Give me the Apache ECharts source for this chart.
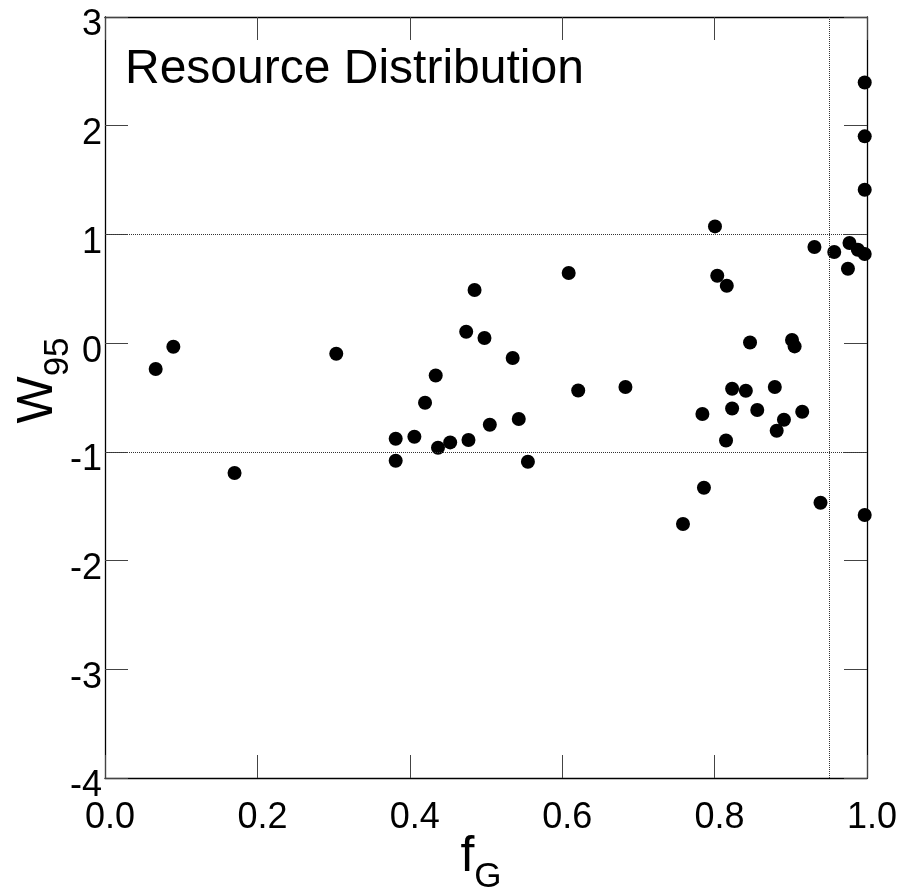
<!DOCTYPE html>
<html>
<head>
<meta charset="utf-8">
<script src="https://cdn.jsdelivr.net/npm/echarts@6/dist/echarts.min.js"></script>
<style>html,body{margin:0;padding:0;background:#fff;}#c{width:912px;height:896px;}</style>
</head>
<body>
<div id="c"></div>
<script>
var titleText = 'Resource Distribution';
var xTicks = ['0.0','0.2','0.4','0.6','0.8','1.0'];
var fG = [0.0665,0.0897,0.170,0.3035,0.3815,0.3815,0.406,0.420,0.434,0.437,0.453,0.474,0.477,0.485,0.498,0.505,0.535,0.543,0.555,0.6085,0.621,0.683,0.7585,0.784,0.786,0.8005,0.8035,0.816,0.815,0.823,0.823,0.841,0.8465,0.856,0.879,0.8815,0.891,0.9016,0.905,0.915,0.931,0.939,0.957,0.975,0.977,0.988,0.997,0.997,0.997,0.997,0.997];
var W95 = [-0.238,-0.033,-1.195,-0.098,-0.879,-1.082,-0.861,-0.548,-0.297,-0.962,-0.913,0.105,-0.891,0.489,0.047,-0.751,-0.137,-0.698,-1.091,0.645,-0.435,-0.404,-1.664,-0.652,-1.330,1.074,0.620,0.528,-0.895,-0.420,-0.601,-0.438,0.006,-0.615,-0.404,-0.806,-0.705,0.029,-0.030,-0.631,0.884,-1.468,0.838,0.684,0.921,0.859,0.820,2.398,1.902,1.411,-1.581];
var hLines = [1, -1];
var vLines = [0.954];

var pts = fG.map(function(x,i){return [x, W95[i]];});
var FONT = 'Liberation Sans';
var tickStyle = {show:true, inside:true, length:23, lineStyle:{color:'#444', width:1}};
var lineStyle = {show:true, onZero:false, lineStyle:{color:'#000', width:1.3}};
var nameRich = function(){
  return {
    a:{fontFamily:FONT, fontSize:50, lineHeight:63, verticalAlign:'top', color:'#000'},
    b:{fontFamily:FONT, fontSize:35, lineHeight:63, verticalAlign:'bottom', color:'#000'}
  };
};
var chart = echarts.init(document.getElementById('c'), null, {renderer:'canvas'});
var markData = hLines.map(function(v){return {yAxis:v};}).concat(vLines.map(function(v){return {xAxis:v};}));
chart.setOption({
  animation:false,
  backgroundColor:'#fff',
  title:{text:titleText, left:120, top:41, textStyle:{fontFamily:FONT, fontSize:48, fontWeight:'normal', color:'#000'}},
  grid:{left:105, right:45, top:17, bottom:118, containLabel:false, outerBoundsMode:'none'},
  xAxis:[{
    type:'value', min:0, max:1, interval:0.2, position:'bottom',
    axisLine:lineStyle, axisTick:tickStyle, splitLine:{show:false},
    axisLabel:{fontFamily:FONT, fontSize:36, color:'#000', margin:22, padding:[0,0,0,10],
      formatter:function(v){return xTicks[Math.round(v/0.2)];}},
    name:'{a|f}{b|G}', nameLocation:'middle', nameGap:54, nameMoveOverlap:false,
    nameTextStyle:{padding:[0,10,0,0], rich:nameRich()}
  },{
    type:'value', min:0, max:1, interval:0.2, position:'top',
    axisLine:lineStyle, axisTick:tickStyle, axisLabel:{show:false}, splitLine:{show:false}
  }],
  yAxis:[{
    type:'value', min:-4, max:3, interval:1, position:'left',
    axisLine:lineStyle, axisTick:tickStyle, splitLine:{show:false},
    axisLabel:{fontFamily:FONT, fontSize:36, color:'#000', margin:3, verticalAlign:'top', lineHeight:17},
    name:'{a|W}{b|95}', nameLocation:'middle', nameGap:29, nameRotate:90, nameMoveOverlap:false,
    nameTextStyle:{padding:[0,0,0,34], rich:nameRich()}
  },{
    type:'value', min:-4, max:3, interval:1, position:'right',
    axisLine:lineStyle, axisTick:tickStyle, axisLabel:{show:false}, splitLine:{show:false}
  }],
  series:[{
    type:'scatter', data:pts, symbol:'circle', symbolSize:14,
    itemStyle:{color:'#000', opacity:1},
    markLine:{silent:true, symbol:'none', label:{show:false},
      lineStyle:{color:'#333', width:1, type:[1,1]}, data:markData}
  }]
});
</script>
</body>
</html>
